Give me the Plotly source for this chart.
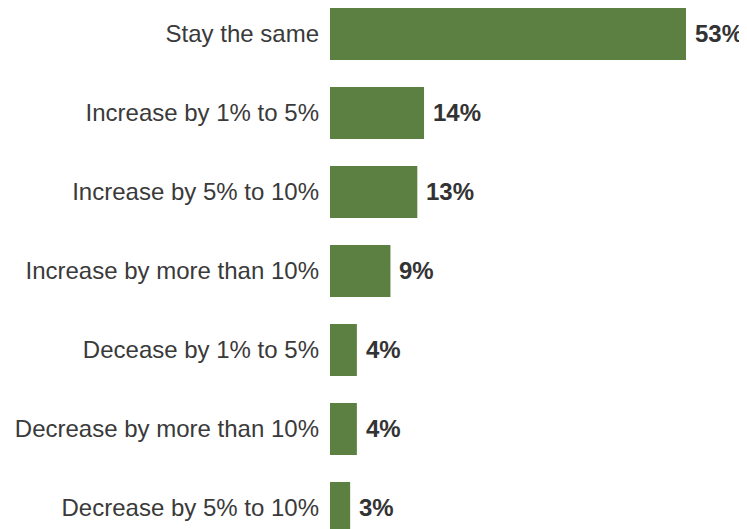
import plotly.graph_objects as go

categories = [
    "Stay the same",
    "Increase by 1% to 5%",
    "Increase by 5% to 10%",
    "Increase by more than 10%",
    "Decease by 1% to 5%",
    "Decrease by more than 10%",
    "Decrease by 5% to 10%",
]
values = [53, 14, 13, 9, 4, 4, 3]

BAR_COLOR = "#5c8041"
FONT = "Liberation Sans, Arial, Helvetica, sans-serif"

fig = go.Figure(
    go.Bar(
        x=values,
        y=categories,
        orientation="h",
        marker=dict(color=BAR_COLOR, line=dict(width=0)),
        width=0.66,
        hoverinfo="skip",
    )
)

for c, v in zip(categories, values):
    fig.add_annotation(
        x=v, y=c, xref="x", yref="y",
        text=f"<b>{v}%</b>", showarrow=False,
        xanchor="left", xshift=7, yanchor="middle",
        font=dict(family=FONT, size=24, color="#333333"),
    )

fig.update_layout(
    width=739, height=521,
    margin=dict(l=322, r=0, t=0, b=0),
    paper_bgcolor="white", plot_bgcolor="white",
    showlegend=False,
    font=dict(family=FONT, size=24, color="#333333"),
    xaxis=dict(range=[0, 62.08], visible=False, fixedrange=True),
    yaxis=dict(
        type="category",
        categoryorder="array", categoryarray=categories,
        range=[6.266, -0.329],
        showgrid=False, zeroline=False, showline=False, ticks="",
        ticklabelstandoff=10,
        tickfont=dict(family=FONT, size=24, color="#3a3a3a"),
    ),
)

fig.write_html("out.html")
